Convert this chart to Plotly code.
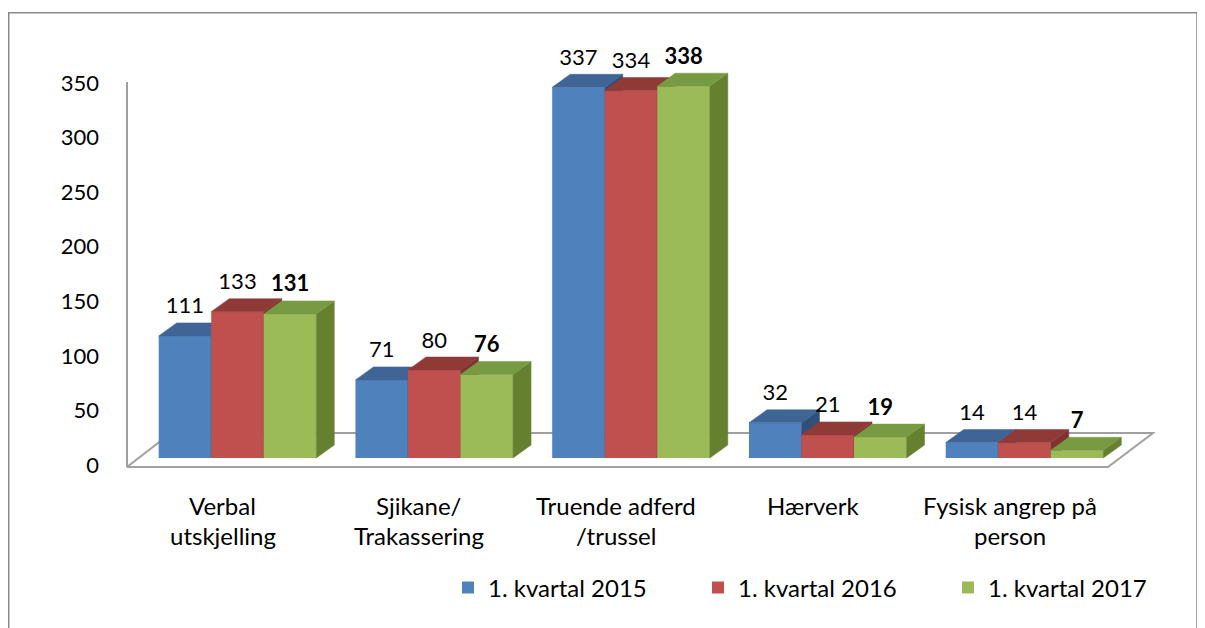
import plotly.graph_objects as go

# ---------------- data ----------------
categories = ["Verbal<br>utskjelling", "Sjikane/<br>Trakassering", "Truende adferd<br>/trussel",
              "Hærverk", "Fysisk angrep på<br>person"]
series_names = ["1. kvartal 2015", "1. kvartal 2016", "1. kvartal 2017"]
values_2015 = [111, 71, 337, 32, 14]
values_2016 = [133, 80, 334, 21, 14]
values_2017 = [131, 76, 338, 19, 7]
y_ticks = [0, 50, 100, 150, 200, 250, 300, 350]

series_values = [values_2015, values_2016, values_2017]
front_colors = ["#4F81BD", "#C0504D", "#9BBB59"]
top_colors = ["#3E6595", "#903A38", "#789A42"]
side_colors = ["#30507A", "#7F3230", "#65812F"]
label_bold = [False, False, True]

FONT = "Lato"
FS_TEXT = 24
FS_NUM = 22

# ---------------- geometry (reference pixels) ----------------
OFF = 8                       # page body margin
W, H = 1205 - OFF, 628 - OFF  # figure size
L, R, T, B = 127, 1155, 30, 480   # plot area (page px)
PX_X = 196.75          # px per category
PX_Y1 = 1.0914         # px per unit, tick axis
PX_Y2 = 1.10           # px per unit, bar axis
CAT0_PX = 237.5
BASE1_PX = 465
BASE2_PX = 458

xmin = -(CAT0_PX - L) / PX_X
xmax = xmin + (R - L) / PX_X
y1min = -(B - BASE1_PX) / PX_Y1
y1max = y1min + (B - T) / PX_Y1
y2min = -(B - BASE2_PX) / PX_Y2
y2max = y2min + (B - T) / PX_Y2


def px2x(px):
    return xmin + (px - L) / PX_X


def px2y2(py):
    return (BASE2_PX - py) / PX_Y2


def px2paper_x(px):
    return (px - L) / (R - L)


def px2paper_y(py):
    return (B - py) / (B - T)


bw = 0.267
dx = 18 / PX_X
dy = 13 / PX_Y2
label_gap = 28 / PX_Y2

fig = go.Figure()
xs_idx = list(range(len(categories)))

for k, (name, vals) in enumerate(zip(series_names, series_values)):
    yax = "y%d" % (k + 2)
    off = (k - 1.5) * bw
    fig.add_trace(go.Bar(
        x=xs_idx, y=vals, width=bw, offset=off, name=name,
        marker=dict(color=front_colors[k], line=dict(width=0)),
        xaxis="x", yaxis=yax, hoverinfo="skip"))
    tx, ty, sx, sy = [], [], [], []
    for i, v in enumerate(vals):
        x0 = i + off
        x1 = x0 + bw
        tx += [x0, x1, x1 + dx, x0 + dx, x0, None]
        ty += [v, v, v + dy, v + dy, v, None]
        sx += [x1, x1 + dx, x1 + dx, x1, x1, None]
        sy += [0, dy, v + dy, v, 0, None]
    fig.add_trace(go.Scatter(x=sx, y=sy, mode="lines", fill="toself",
                             fillcolor=side_colors[k], line=dict(width=0.5, color=side_colors[k]),
                             xaxis="x", yaxis=yax, showlegend=False, hoverinfo="skip"))
    fig.add_trace(go.Scatter(x=tx, y=ty, mode="lines", fill="toself",
                             fillcolor=top_colors[k], line=dict(width=0.5, color=top_colors[k]),
                             xaxis="x", yaxis=yax, showlegend=False, hoverinfo="skip"))

# value labels on top layer
for k, vals in enumerate(series_values):
    cx = [i + (k - 1) * bw for i in xs_idx]
    fig.add_trace(go.Scatter(
        x=cx, y=[v + label_gap for v in vals], mode="text",
        text=[str(v) for v in vals], textposition="middle center",
        textfont=dict(family=FONT, size=FS_NUM, color="black",
                      weight="bold" if label_bold[k] else "normal"),
        xaxis="x", yaxis="y4", showlegend=False, hoverinfo="skip", cliponaxis=False))

# ---------------- category labels ----------------
annotations = []
for i, cat in enumerate(categories):
    for j, line in enumerate(cat.split("<br>")):
        annotations.append(dict(
            x=i, xref="x", y=0, yref="paper", text=line, showarrow=False,
            xanchor="center", yanchor="middle", xshift=-15, yshift=-(25 + 30 * j),
            font=dict(family=FONT, size=FS_TEXT, color="black")))

# ---------------- decorations ----------------
floor = [(127, 467), (1108, 467), (1153, 433), (171, 433)]
path = "M " + " L ".join("%f,%f" % (px2x(a), px2y2(b)) for a, b in floor) + " Z"
shapes = [
    dict(type="path", path=path, xref="x", yref="y2", layer="below",
         line=dict(color="#A0A0A0", width=2), fillcolor="rgba(0,0,0,0)"),
    dict(type="line", xref="paper", yref="y", x0=0, x1=0, y0=-2, y1=max(y_ticks) + 1,
         layer="below", line=dict(color="#A0A0A0", width=2)),
    dict(type="rect", xref="paper", yref="paper",
         x0=px2paper_x(8.75), x1=px2paper_x(1197), y0=px2paper_y(700), y1=px2paper_y(12.75),
         layer="below", line=dict(color="#8A8A8A", width=1.5), fillcolor="rgba(0,0,0,0)"),
]

hidden_y = dict(range=[y2min, y2max], visible=False, overlaying="y", fixedrange=True)

fig.update_layout(
    width=W, height=H, autosize=False,
    margin=dict(l=L - OFF, r=W - (R - OFF), t=T - OFF, b=H - (B - OFF), pad=0, autoexpand=False),
    paper_bgcolor="white", plot_bgcolor="rgba(0,0,0,0)",
    font=dict(family=FONT, size=FS_TEXT, color="black"),
    showlegend=True,
    legend=dict(orientation="h", x=px2paper_x(448), y=px2paper_y(588),
                xanchor="left", yanchor="middle",
                font=dict(family=FONT, size=FS_TEXT, color="black"),
                entrywidth=205, entrywidthmode="pixels",
                bgcolor="rgba(0,0,0,0)", traceorder="normal", itemclick=False),
    xaxis=dict(range=[xmin, xmax], visible=False, fixedrange=True),
    yaxis=dict(range=[y1min, y1max], tickvals=y_ticks, ticktext=[str(t) for t in y_ticks],
               showgrid=False, zeroline=False, showline=False, ticks="",
               ticklabelstandoff=27, fixedrange=True,
               tickfont=dict(family=FONT, size=FS_NUM, color="black")),
    yaxis2=hidden_y, yaxis3=dict(hidden_y), yaxis4=dict(hidden_y),
    annotations=annotations, shapes=shapes,
)

fig.write_html("out.html")
